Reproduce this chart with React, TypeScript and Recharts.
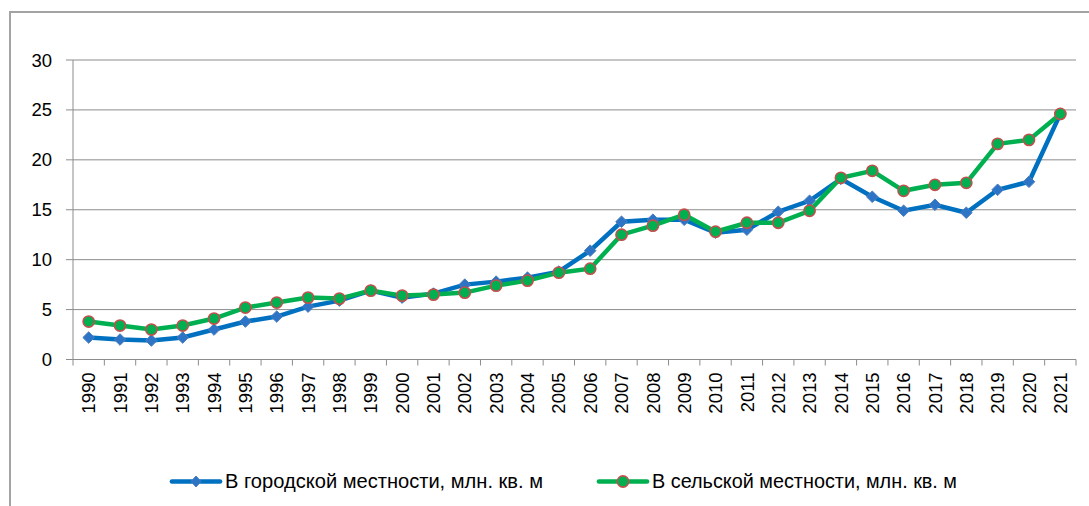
import React from 'react';
import { LineChart, Line, XAxis, YAxis, CartesianGrid, Legend } from 'recharts';

const years = ['1990','1991','1992','1993','1994','1995','1996','1997','1998','1999','2000','2001','2002','2003','2004','2005','2006','2007','2008','2009','2010','2011','2012','2013','2014','2015','2016','2017','2018','2019','2020','2021'];
const urban = [2.2,2.0,1.9,2.2,3.0,3.8,4.3,5.3,5.9,6.9,6.2,6.6,7.5,7.8,8.2,8.8,10.9,13.8,14.0,14.0,12.7,13.0,14.8,15.9,18.1,16.3,14.9,15.5,14.7,17.0,17.8,24.6];
const rural = [3.8,3.4,3.0,3.4,4.1,5.2,5.7,6.2,6.1,6.9,6.4,6.5,6.7,7.4,7.9,8.7,9.1,12.5,13.4,14.5,12.8,13.7,13.7,14.9,18.2,18.9,16.9,17.5,17.7,21.6,22.0,24.6];
const yTicks = [0, 5, 10, 15, 20, 25, 30];
const seriesNames = ['В городской местности, млн. кв. м', 'В сельской местности, млн. кв. м'];

const data = years.map((y, i) => ({ idx: i, year: y, urban: urban[i], rural: rural[i] }));
const xTicks: number[] = [];
for (let i = 0; i < years.length; i++) { xTicks.push(i - 0.5); xTicks.push(i); }
xTicks.push(years.length - 0.5);

const FONT = '"Liberation Sans", Arial, sans-serif';
const GRID = '#8c8c8c';
const TICK_MARGIN = 13;

const XTick = (props: any) => {
  const { x, y, payload } = props;
  const v = payload.value as number;
  if (!Number.isInteger(v)) {
    const y0 = y - TICK_MARGIN;
    return <line x1={x} x2={x} y1={y0} y2={y0 + 6} stroke={GRID} strokeWidth={1} />;
  }
  return (
    <text x={x} y={y} dy="0.36em" transform={`rotate(-90, ${x}, ${y})`} textAnchor="end" fontSize={18.5} fontFamily={FONT} fill="#000">
      {years[v]}
    </text>
  );
};

const Diamond = (props: any) => {
  const { cx, cy } = props;
  if (cx == null || cy == null) return null;
  const s = 5.8;
  return <polygon points={`${cx},${cy - s} ${cx + s},${cy} ${cx},${cy + s} ${cx - s},${cy}`} fill="#2E74C6" stroke="#4A7EBB" strokeWidth={1} />;
};

const Circle = (props: any) => {
  const { cx, cy } = props;
  if (cx == null || cy == null) return null;
  return <circle cx={cx} cy={cy} r={5.6} fill="#00B050" stroke="#C0504D" strokeWidth={1.6} />;
};

const legendX = [171, 598];
const legendTextLen = [318, 305];

const renderLegend = () => (
  <svg width={1089} height={50} style={{ display: 'block' }}>
    {[0, 1].map((i) => {
      const x0 = legendX[i];
      const cyL = 26.5;
      return (
        <g key={i}>
          <line x1={x0 + 1} x2={x0 + 49} y1={cyL} y2={cyL} stroke={i === 0 ? '#0070C0' : '#00B050'} strokeWidth={4.7} strokeLinecap="round" />
          {i === 0 ? (
            <polygon points={`${x0 + 25},${cyL - 5.5} ${x0 + 30},${cyL} ${x0 + 25},${cyL + 5.5} ${x0 + 20},${cyL}`} fill="#2E74C6" stroke="#4A7EBB" strokeWidth={1} />
          ) : (
            <circle cx={x0 + 25} cy={cyL} r={5.6} fill="#00B050" stroke="#C0504D" strokeWidth={1.6} />
          )}
          <text x={x0 + 54} y={33} fontSize={19.5} fontFamily={FONT} fill="#000" textLength={legendTextLen[i]} lengthAdjust="spacingAndGlyphs">
            {seriesNames[i]}
          </text>
        </g>
      );
    })}
  </svg>
);

export default function App() {
  return (
    <div style={{ position: 'absolute', left: 0, top: 0, width: 1089, height: 506, background: '#fff', overflow: 'hidden' }}>
      <div style={{ position: 'absolute', left: 9, top: 11, width: 1100, height: 520, borderLeft: '2px solid #a3a3a3', borderTop: '2px solid #a3a3a3' }} />
      <div style={{ position: 'absolute', left: 0, top: 0 }}>
        <LineChart width={1089} height={506} data={data} margin={{ top: 60, right: 13, left: 0, bottom: 86.5 }}>
          <CartesianGrid vertical={false} stroke={GRID} strokeWidth={1} />
          <XAxis
            dataKey="idx"
            type="number"
            domain={[-0.5, years.length - 0.5]}
            ticks={xTicks}
            interval={0}
            tick={<XTick />}
            tickLine={false}
            tickSize={0}
            tickMargin={TICK_MARGIN}
            axisLine={{ stroke: GRID, strokeWidth: 1 }}
            height={60}
            allowDataOverflow
          />
          <YAxis
            domain={[0, 30]}
            ticks={yTicks}
            interval={0}
            width={73}
            tickSize={7}
            tickMargin={14}
            tickLine={{ stroke: GRID, strokeWidth: 1 }}
            axisLine={{ stroke: GRID, strokeWidth: 1 }}
            tick={{ fill: '#000', fontSize: 18.5, fontFamily: FONT }}
          />
          <Legend
            content={renderLegend}
            verticalAlign="middle"
            align="center"
            layout="horizontal"
            wrapperStyle={{ left: 0, top: 455, width: 1089, height: 50 }}
          />
          <Line type="linear" dataKey="urban" name={seriesNames[0]} stroke="#0070C0" strokeWidth={4.5} dot={<Diamond />} activeDot={false} isAnimationActive={false} />
          <Line type="linear" dataKey="rural" name={seriesNames[1]} stroke="#00B050" strokeWidth={4.5} dot={<Circle />} activeDot={false} isAnimationActive={false} />
        </LineChart>
      </div>
    </div>
  );
}
